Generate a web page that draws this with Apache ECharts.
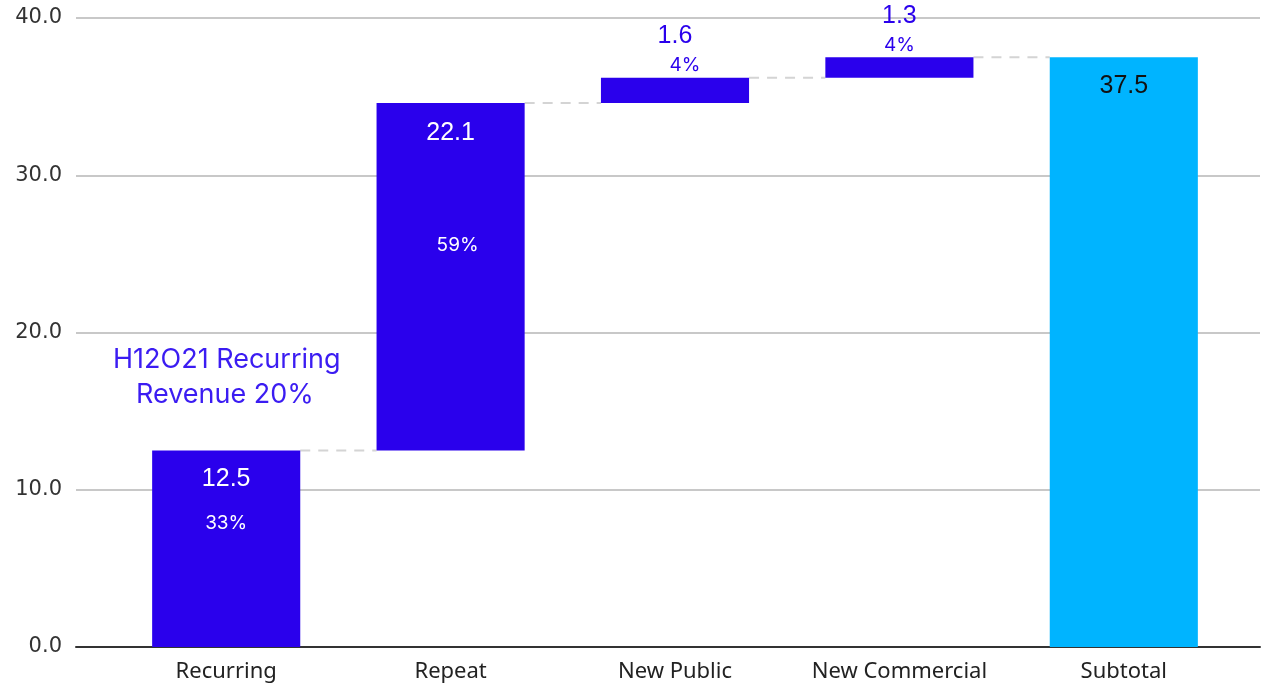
<!DOCTYPE html>
<html><head><meta charset="utf-8">
<script src="https://cdn.jsdelivr.net/npm/echarts@6/dist/echarts.min.js"></script>
<style>html,body{margin:0;padding:0;background:#fff}#c{width:1263px;height:687px}</style>
</head><body><div id="c"></div>
<script>
const categories = ['Recurring', 'Repeat', 'New Public', 'New Commercial', 'Subtotal'];
const values = [12.5, 22.1, 1.6, 1.3, 37.5];
const isTotal = [false, false, false, false, true];
const percents = ['33%', '59%', '4%', '4%', ''];
const yTicks = [0, 10, 20, 30, 40];

// bar bases (waterfall)
const bases = [];
let run = 0;
values.forEach((v, i) => {
  if (isTotal[i]) { bases.push(0); run = v; }
  else { bases.push(run); run += v; }
});
const tops = values.map((v, i) => bases[i] + v);

const BLUE = '#2a00ec';
const CYAN = '#00b4ff';

// per-item label styles
const labelStyles = [
  { position: 'insideTop', distance: 14, color: '#fff', pLH: 58, pPad: 0 },
  { position: 'insideTop', distance: 15, color: '#fff', pLH: 194, pPad: 14 },
  { position: 'top', distance: -3, color: BLUE, pLH: 30, pPad: 20 },
  { position: 'top', distance: -2, color: BLUE, pLH: 28, pPad: 0 },
  { position: 'insideTop', distance: 14, color: '#111', pLH: 0, pPad: 0 }
];

const valueData = values.map((v, i) => {
  const s = labelStyles[i];
  return {
    value: v,
    itemStyle: { color: isTotal[i] ? CYAN : BLUE },
    label: {
      show: true,
      position: s.position,
      distance: s.distance,
      formatter: percents[i] ? '{v|' + v.toFixed(1) + '}\n{p|' + percents[i] + '}' : '{v|' + v.toFixed(1) + '}',
      rich: {
        v: { fontFamily: 'Liberation Sans, Arial', fontSize: 25, color: s.color, lineHeight: 30, align: 'center' },
        p: { fontFamily: 'Inter', fontSize: 19, color: s.color, lineHeight: s.pLH || 20, align: 'center', padding: [0, 0, 0, s.pPad] }
      }
    }
  };
});

const connectorData = tops.slice(0, -1).map((t, i) => [i, t]);

const chart = echarts.init(document.getElementById('c'));
chart.setOption({
  animation: false,
  grid: [
    { left: 76, right: 3, top: 18, bottom: 40 },
    { left: 114, right: 27, top: 18, bottom: 40 }
  ],
  xAxis: [
    { gridIndex: 0, type: 'value', min: 0, max: 1, axisLine: { show: true, lineStyle: { color: '#333', width: 2 } },
      axisTick: { show: false }, axisLabel: { show: false }, splitLine: { show: false } },
    { gridIndex: 1, type: 'category', data: categories, axisLine: { show: false }, axisTick: { show: false },
      axisLabel: { interval: 0, hideOverlap: false, fontFamily: 'Noto Sans', fontSize: 22, color: '#222', margin: 14 } }
  ],
  yAxis: [
    { gridIndex: 0, type: 'value', min: yTicks[0], max: yTicks[yTicks.length - 1], interval: 10,
      axisLine: { show: false }, axisTick: { show: false },
      axisLabel: { fontFamily: 'DejaVu Sans', fontSize: 21, color: '#333', margin: 14, formatter: v => v.toFixed(1) },
      splitLine: { lineStyle: { color: '#c8c8c8', width: 2 } } },
    { gridIndex: 1, type: 'value', min: 0, max: 40, interval: 10, show: false }
  ],
  series: [
    { type: 'bar', xAxisIndex: 1, yAxisIndex: 1, stack: 'w', data: bases, barWidth: '66%',
      itemStyle: { color: 'transparent' }, silent: true },
    { type: 'bar', xAxisIndex: 1, yAxisIndex: 1, stack: 'w', data: valueData, barWidth: '66%' },
    { type: 'custom', xAxisIndex: 1, yAxisIndex: 1, data: connectorData, z: 1,
      renderItem: function (params, api) {
        const i = api.value(0), y = api.value(1);
        const p1 = api.coord([i, y]);
        const p2 = api.coord([i + 1, y]);
        const bw = api.size([1, 0])[0] * 0.33;
        return { type: 'line', shape: { x1: p1[0] + bw, y1: p1[1], x2: p2[0] - bw, y2: p2[1] },
          style: { stroke: '#d4d4d4', lineWidth: 2, lineDash: [10, 8] } };
      } }
  ],
  graphic: [
    { type: 'text', left: 113, top: 346, style: { text: 'H12O21 Recurring', font: '27px Inter', fill: '#3b1cf2' } },
    { type: 'text', left: 136, top: 381, style: { text: 'Revenue 20%', font: '27px Inter', fill: '#3b1cf2' } }
  ]
});
</script></body></html>
